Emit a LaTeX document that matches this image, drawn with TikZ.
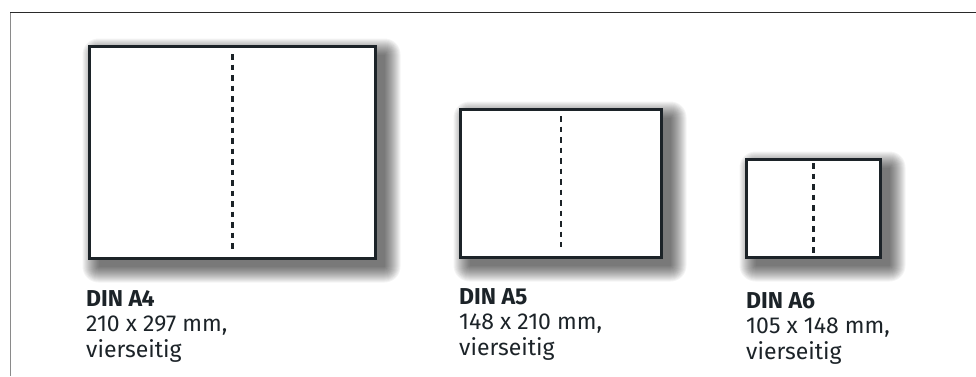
\documentclass[tikz,border=0pt]{standalone}
\usepackage{fontspec}
\setmainfont{Fira Sans}
\usetikzlibrary{calc,backgrounds}
\definecolor{ink}{HTML}{1C2328}
\definecolor{framedark}{HTML}{2A2A2A}
\definecolor{framelight}{HTML}{8A8A8A}
\newcommand\mysheetshadow[1]{%
  \foreach \e in {0,1,...,16}{%
    \fill[black, opacity=0.042, rounded corners=\e pt]
      ($(#1.north west)+(9-\e,8-\e)$) rectangle ($(#1.south east)+(9+\e,8+\e)$);
  }}
\begin{document}
\begin{tikzpicture}[x=1pt,y=-1pt,
  sheet/.style={draw=ink, line width=2.7pt, fill=white, inner sep=0pt, outer sep=0pt},
  fold/.style={draw=ink, line width=2.5pt, dash pattern=on 5.5pt off 5pt},
  caption/.style={anchor=north west, inner sep=0pt, align=left, text=ink, font=\fontsize{23}{25.5}\selectfont}
]
\useasboundingbox (0,0) rectangle (976,376);
% frame
\coordinate (fbl) at (10,376);
\coordinate (ftl) at (10,12.5);
\coordinate (ftr) at (976,12.5);
\draw[framelight, line width=1pt] (fbl) -- (ftl);
\draw[framedark, line width=1.3pt] (ftl) -- (ftr);
% sheets
\node[sheet, minimum width=286pt, minimum height=212pt] (a4) at (232.5,152.5) {};
\node[sheet, minimum width=201pt, minimum height=148pt] (a5) at (561,183.5) {};
\node[sheet, minimum width=134pt, minimum height=98pt] (a6) at (813.5,208.5) {};
\begin{scope}[on background layer]
  \mysheetshadow{a4}
  \mysheetshadow{a5}
  \mysheetshadow{a6}
\end{scope}
% folds
\draw[fold] ($(a4.north)+(0,7.5)$) -- ($(a4.south)+(0,-7.5)$);
\draw[fold] ($(a5.north)+(0,6.5)$) -- ($(a5.south)+(0,-11)$);
\draw[fold] ($(a6.north)+(0,3.5)$) -- ($(a6.south)+(0,-5)$);
% captions
\node[caption] (t4) at (86,290) {\textbf{DIN A4}\\210 x 297 mm,\\vierseitig};
\node[caption] (t5) at (459,288) {\textbf{DIN A5}\\148 x 210 mm,\\vierseitig};
\node[caption] (t6) at (746,292) {\textbf{DIN A6}\\105 x 148 mm,\\vierseitig};
\end{tikzpicture}
\end{document}
